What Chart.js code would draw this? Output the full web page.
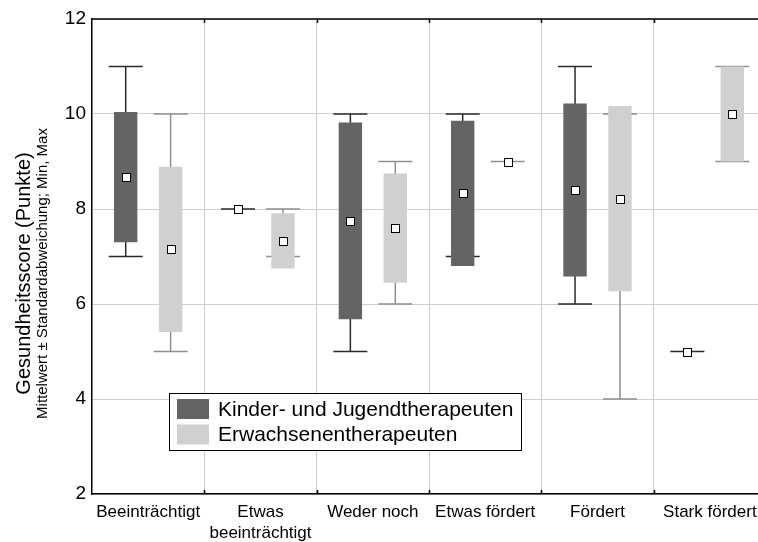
<!DOCTYPE html>
<html>
<head>
<meta charset="utf-8">
<script src="https://cdn.jsdelivr.net/npm/chart.js@4.4.0/dist/chart.umd.min.js"></script>
<style>
    html, body { margin: 0; padding: 0; background: #fff; overflow: hidden; }
    #wrap { width: 780px; height: 542px; }
</style>
</head>
<body>
<div id="wrap"><canvas id="chart" width="780" height="542"></canvas></div>
<script>
// Kategorien (x-Achse)
const categories = ['Beeinträchtigt', ['Etwas', 'beeinträchtigt'], 'Weder noch', 'Etwas fördert', 'Fördert', 'Stark fördert'];

// Kinder- und Jugendtherapeuten
const kjMean = [8.67, 8.0, 7.75, 8.33, 8.4, 5.0];
const kjSd   = [1.37, 0,   2.07, 1.53, 1.82, 0];
const kjMin  = [7, 8, 5, 7, 6, 5];
const kjMax  = [11, 8, 10, 10, 11, 5];

// Erwachsenentherapeuten
const ewMean = [7.15, 7.33, 7.6, 9.0, 8.22, 10.0];
const ewSd   = [1.74, 0.58, 1.15, 0, 1.95, 1.0];
const ewMin  = [5, 7, 6, 9, 4, 9];
const ewMax  = [10, 8, 9, 9, 10, 11];

const yTicks = [2, 4, 6, 8, 10, 12];

const FONT = 'Liberation Sans, Arial, sans-serif';

const series = [
    { label: 'Kinder- und Jugendtherapeuten', mean: kjMean, sd: kjSd, min: kjMin, max: kjMax, fill: '#646464', whisker: '#2a2a2a' },
    { label: 'Erwachsenentherapeuten', mean: ewMean, sd: ewSd, min: ewMin, max: ewMax, fill: '#d0d0d0', whisker: '#8f8f8f' }
];

// whiskers (min/max) behind the boxes, mean markers on top
const boxPlotExtras = {
    id: 'boxPlotExtras',
    beforeDatasetsDraw(chart) {
        const { ctx } = chart;
        const y = chart.scales.y;
        const capHalf = 17;
        series.forEach((s, di) => {
            chart.getDatasetMeta(di).data.forEach((bar, i) => {
                const x = bar.x;
                const yMin = y.getPixelForValue(s.min[i]);
                const yMax = y.getPixelForValue(s.max[i]);
                ctx.save();
                ctx.strokeStyle = s.whisker;
                ctx.lineWidth = 1.5;
                ctx.beginPath();
                ctx.moveTo(x, yMin); ctx.lineTo(x, yMax);
                ctx.moveTo(x - capHalf, yMin); ctx.lineTo(x + capHalf, yMin);
                ctx.moveTo(x - capHalf, yMax); ctx.lineTo(x + capHalf, yMax);
                ctx.stroke();
                ctx.restore();
            });
        });
    },
    afterDatasetsDraw(chart) {
        const { ctx } = chart;
        const y = chart.scales.y;
        series.forEach((s, di) => {
            chart.getDatasetMeta(di).data.forEach((bar, i) => {
                const x = Math.round(bar.x);
                const ym = Math.round(y.getPixelForValue(s.mean[i]));
                ctx.save();
                ctx.fillStyle = '#fff';
                ctx.strokeStyle = '#000';
                ctx.lineWidth = 1;
                ctx.fillRect(x - 4, ym - 4, 8, 8);
                ctx.strokeRect(x - 3.5, ym - 3.5, 8, 8);
                ctx.restore();
            });
        });
    }
};

// top frame line, small inner ticks, axis titles and legend
const frameAndLabels = {
    id: 'frameAndLabels',
    afterDraw(chart) {
        const { ctx, chartArea: a } = chart;
        const x = chart.scales.x;
        ctx.save();
        ctx.strokeStyle = '#000';
        ctx.lineWidth = 1.5;
        ctx.beginPath();
        ctx.moveTo(a.left, a.top); ctx.lineTo(a.right, a.top);
        for (let i = 1; i < categories.length; i++) {
            const bx = Math.round((x.getPixelForValue(i - 1) + x.getPixelForValue(i)) / 2) + 0.5;
            ctx.moveTo(bx, a.bottom); ctx.lineTo(bx, a.bottom - 4);
            ctx.moveTo(bx, a.top); ctx.lineTo(bx, a.top + 4);
        }
        ctx.stroke();

        // y titles
        const cy = (a.top + a.bottom) / 2 + 17;
        ctx.fillStyle = '#000';
        ctx.textAlign = 'center';
        ctx.textBaseline = 'middle';
        ctx.translate(24, cy);
        ctx.rotate(-Math.PI / 2);
        ctx.font = '20px ' + FONT;
        ctx.fillText('Gesundheitsscore (Punkte)', 0, 0);
        ctx.font = '15px ' + FONT;
        ctx.fillText('Mittelwert ± Standardabweichung; Min, Max', 0, 19);
        ctx.restore();

        // legend
        ctx.save();
        ctx.fillStyle = '#fff';
        ctx.fillRect(169.5, 393.5, 352, 57);
        ctx.strokeStyle = '#000';
        ctx.lineWidth = 1;
        ctx.strokeRect(169.5, 393.5, 352, 57);
        ctx.font = '21px ' + FONT;
        ctx.textAlign = 'left';
        ctx.textBaseline = 'middle';
        series.forEach((s, i) => {
            const ry = 399 + i * 25.5;
            ctx.fillStyle = s.fill;
            ctx.fillRect(177, ry, 32, 20);
            ctx.fillStyle = '#000';
            ctx.fillText(s.label, 218, ry + 11);
        });
        ctx.restore();
    }
};

new Chart(document.getElementById('chart'), {
    type: 'bar',
    data: {
        labels: categories,
        datasets: series.map(s => ({
            label: s.label,
            data: s.mean.map((m, i) => [m - s.sd[i], m + s.sd[i]]),
            backgroundColor: s.fill,
            borderWidth: 0,
            categoryPercentage: 0.8,
            barPercentage: 0.52
        }))
    },
    options: {
        responsive: false,
        animation: false,
        layout: { padding: { top: 19, right: 14, left: 0, bottom: 0 } },
        plugins: {
            legend: { display: false },
            tooltip: { enabled: false }
        },
        scales: {
            x: {
                ticks: {
                    color: '#000',
                    font: { family: FONT, size: 17, lineHeight: 1.23 },
                    padding: 8,
                    maxRotation: 0,
                    autoSkip: false
                },
                grid: { color: '#cccccc', drawTicks: false, offset: true },
                border: { display: true, color: '#000', width: 1.5 },
                afterFit(scale) { scale.height = 48; }
            },
            y: {
                min: yTicks[0],
                max: yTicks[yTicks.length - 1],
                afterBuildTicks(scale) { scale.ticks = yTicks.map(v => ({ value: v })); },
                ticks: {
                    color: '#000',
                    font: { family: FONT, size: 19 },
                    padding: 6
                },
                grid: { color: '#d0d0d0', drawTicks: false },
                border: { display: true, color: '#000', width: 1.5 },
                afterFit(scale) { scale.width = 92; }
            }
        }
    },
    plugins: [boxPlotExtras, frameAndLabels]
});
</script>
</body>
</html>
